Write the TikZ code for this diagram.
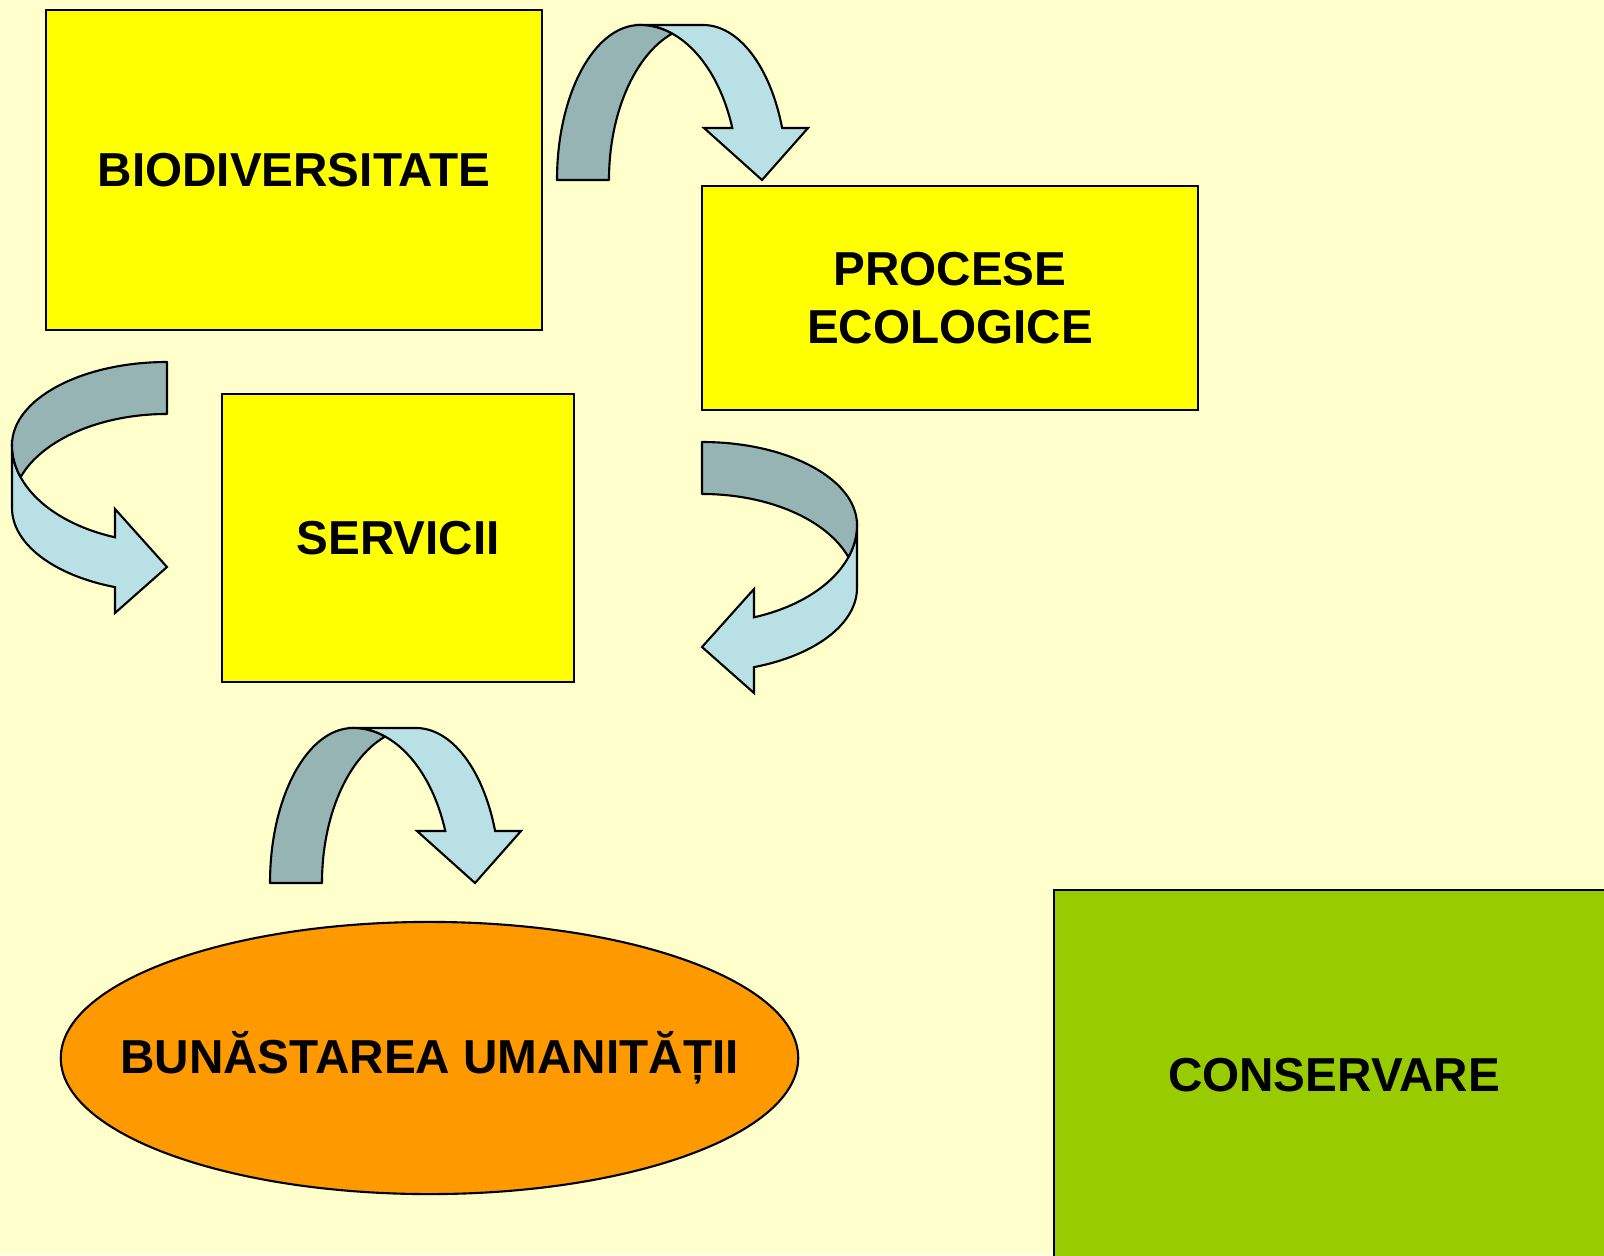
\documentclass[tikz,border=0pt]{standalone}
\usepackage{fontspec}
\setmainfont{Liberation Sans}
\usetikzlibrary{shapes.geometric,positioning}
\definecolor{bgyellow}{HTML}{FFFFCC}
\definecolor{boxyellow}{HTML}{FFFF00}
\definecolor{consgreen}{HTML}{99CC00}
\definecolor{wellorange}{HTML}{FF9900}
\definecolor{banddark}{HTML}{96B4B4}
\definecolor{bandlight}{HTML}{B9E0E5}
\tikzset{
  boxtext/.style={inner sep=0pt, align=center, font=\bfseries\fontsize{13.55}{16.4}\selectfont},
  box/.style={boxtext, draw=black, line width=0.6pt, fill=boxyellow},
  darkband/.style={draw=black, line width=0.6pt, fill=banddark, line join=round},
  lightband/.style={draw=black, line width=0.6pt, fill=bandlight, line join=miter}
}
\newcommand\curvedarrow{%
\draw[lightband] (83,-155) -- (146,-155)
  arc[start angle=270, end angle=340.4, x radius=84, y radius=155]
  -- (251,-52) -- (205,0) -- (147,-52) -- (175.3,-52)
  arc[start angle=340.4, end angle=270, x radius=98, y radius=155] -- cycle;
\draw[darkband] (0,0)
  arc[start angle=180, end angle=270, x radius=83, y radius=155]
  arc[start angle=270, end angle=289.15, x radius=98, y radius=155]
  arc[start angle=250.85, end angle=180, x radius=94, y radius=155] -- cycle;
}

\begin{document}
\begin{tikzpicture}[x=0.01cm, y=-0.01cm]
\useasboundingbox (0,0) rectangle (1604,1255);
\clip (0,0) rectangle (1604,1255);
\fill[bgyellow] (0,0) rectangle (1604,1255);

\node[box, minimum width=4.96cm, minimum height=3.20cm] (bio) at (294,170) {BIODIVERSITATE};
\node[box, minimum width=4.96cm, minimum height=2.24cm] (proc) at (950,298) {PROCESE\\ECOLOGICE};
\node[box, minimum width=3.52cm, minimum height=2.88cm] (serv) at (398,538) {SERVICII};
\node[box, ellipse, fill=wellorange, minimum width=7.37cm, minimum height=2.72cm,
  label={[boxtext]center:BUNĂSTAREA UMANITĂȚII}] (well) at (429.5,1058) {};
\node[box, fill=consgreen, minimum width=5.60cm, minimum height=3.70cm] (cons) at (1334,1075) {CONSERVARE};

\begin{scope}[shift={(557,180)}]
\curvedarrow
\end{scope}
\begin{scope}[cm={0,-1,-1,0,(167,362)}]
\curvedarrow
\end{scope}
\begin{scope}[cm={0,-1,1,0,(702,442)}]
\curvedarrow
\end{scope}
\begin{scope}[shift={(270,883)}]
\curvedarrow
\end{scope}
\end{tikzpicture}
\end{document}
